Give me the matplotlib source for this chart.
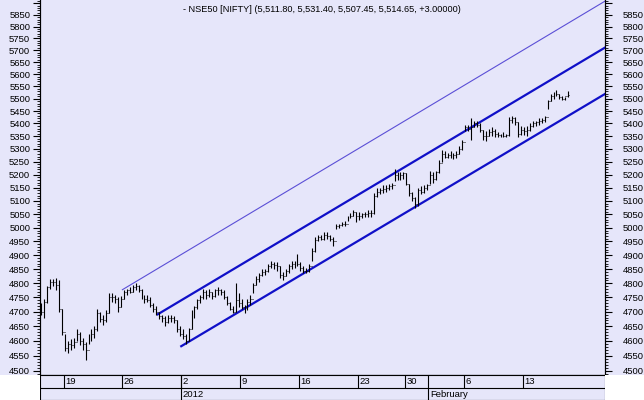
import matplotlib
matplotlib.use('Agg')
import matplotlib.pyplot as plt
from matplotlib.ticker import MultipleLocator, FuncFormatter, NullFormatter
from matplotlib.patches import Rectangle

# Fuente parecida a Arial
plt.rcParams['font.family'] = ['Liberation Sans', 'DejaVu Sans']

# PASO 1: Datos (4 barras por sesion, 15-dic-2011 .. 16-feb-2012)
maximos = [
    4730, 4745, 4790, 4815,  4815, 4818, 4810, 4710,  4625, 4600, 4605, 4610,  # 15,16,19 dic
    4640, 4630, 4610, 4595,  4625, 4640, 4650, 4710,  4700, 4690, 4705, 4765,  # 20,21,22 dic
    4765, 4760, 4750, 4755,  4775, 4780, 4785, 4795,  4800, 4795, 4780, 4760,  # 23,26,27 dic
    4760, 4750, 4730, 4720,  4700, 4690, 4685, 4690,  4690, 4685, 4670, 4650,  # 28,29,30 dic
    4640, 4625, 4645, 4705,  4720, 4745, 4760, 4780,  4775, 4780, 4770, 4780,  # 2,3,4 ene
    4785, 4780, 4775, 4755,  4735, 4720, 4800, 4765,  4745, 4725, 4745, 4760,  # 5,6,9 ene
    4800, 4825, 4835, 4850,  4850, 4870, 4880, 4875,  4875, 4860, 4840, 4850,  # 10,11,12 ene
    4870, 4880, 4880, 4905,  4875, 4860, 4855, 4870,  4925, 4965, 4975, 4975,  # 13,16,17 ene
    4985, 4985, 4975, 4965,  5015, 5015, 5020, 5025,  5045, 5055, 5065, 5060,  # 18,19,20 ene
    5060, 5055, 5060, 5065,  5065, 5130, 5150, 5150,  5160, 5160, 5165, 5170,  # 23,24,25 ene
    5220, 5210, 5210, 5210,  5205, 5165, 5135, 5115,  5150, 5155, 5160, 5165,  # 27,30,31 ene
    5215, 5210, 5215, 5255,  5295, 5290, 5285, 5290,  5285, 5290, 5310, 5335,  # 1,2,3 feb
    5395, 5395, 5420, 5410,  5410, 5400, 5375, 5370,  5380, 5385, 5380, 5365,  # 6,7,8 feb
    5360, 5365, 5360, 5425,  5430, 5425, 5405, 5390,  5385, 5390, 5400, 5410,  # 9,10,13 feb
    5410, 5420, 5420, 5430,  5495, 5520, 5525, 5535,  5520, 5510, 5505, 5531.40,  # 14,15,16 feb
]
minimos = [
    4690, 4680, 4730, 4780,  4790, 4775, 4700, 4620,  4565, 4560, 4570, 4575,
    4600, 4585, 4570, 4535,  4590, 4600, 4610, 4635,  4665, 4655, 4665, 4695,
    4735, 4730, 4700, 4715,  4745, 4760, 4765, 4770,  4775, 4770, 4745, 4730,
    4735, 4715, 4700, 4690,  4675, 4665, 4650, 4660,  4665, 4660, 4630, 4615,
    4605, 4590, 4600, 4640,  4680, 4710, 4730, 4745,  4745, 4750, 4745, 4750,
    4760, 4760, 4745, 4725,  4705, 4695, 4700, 4715,  4710, 4695, 4705, 4725,
    4765, 4795, 4805, 4825,  4830, 4840, 4855, 4850,  4845, 4820, 4810, 4825,
    4835, 4850, 4855, 4860,  4845, 4835, 4835, 4840,  4880, 4910, 4950, 4955,
    4955, 4960, 4950, 4935,  4995, 5000, 5005, 5005,  5025, 5035, 5045, 5020,
    5030, 5035, 5040, 5040,  5040, 5050, 5115, 5125,  5130, 5135, 5140, 5145,
    5175, 5180, 5180, 5185,  5160, 5120, 5100, 5075,  5080, 5125, 5130, 5140,
    5165, 5170, 5180, 5205,  5250, 5265, 5265, 5265,  5260, 5265, 5280, 5295,
    5370, 5370, 5335, 5385,  5385, 5365, 5335, 5330,  5350, 5350, 5345, 5345,
    5345, 5345, 5345, 5350,  5400, 5395, 5345, 5355,  5355, 5350, 5370, 5385,
    5390, 5395, 5400, 5405,  5460, 5490, 5500, 5510,  5500, 5495, 5495, 5507.45,
]
cierres = [
    4700, 4735, 4785, 4805,  4805, 4795, 4710, 4630,  4575, 4590, 4585, 4595,
    4625, 4600, 4590, 4570,  4615, 4625, 4640, 4695,  4675, 4670, 4695, 4750,
    4750, 4745, 4715, 4745,  4770, 4775, 4770, 4785,  4790, 4775, 4750, 4745,
    4740, 4725, 4710, 4700,  4685, 4680, 4665, 4680,  4680, 4670, 4640, 4625,
    4615, 4600, 4640, 4695,  4715, 4740, 4750, 4770,  4760, 4770, 4755, 4775,
    4775, 4770, 4750, 4730,  4710, 4700, 4740, 4730,  4715, 4705, 4735, 4745,
    4795, 4815, 4830, 4840,  4845, 4860, 4870, 4865,  4860, 4830, 4825, 4845,
    4860, 4870, 4865, 4870,  4855, 4845, 4845, 4860,  4915, 4955, 4965, 4960,
    4975, 4970, 4960, 4950,  5005, 5010, 5015, 5015,  5040, 5045, 5060, 5045,
    5045, 5050, 5050, 5055,  5055, 5120, 5135, 5140,  5145, 5150, 5155, 5160,
    5200, 5195, 5200, 5205,  5165, 5130, 5110, 5090,  5140, 5135, 5150, 5160,
    5200, 5185, 5210, 5245,  5280, 5270, 5275, 5270,  5275, 5280, 5300, 5325,
    5385, 5380, 5385, 5400,  5395, 5375, 5350, 5350,  5365, 5370, 5360, 5355,
    5355, 5350, 5355, 5415,  5420, 5405, 5360, 5375,  5370, 5375, 5390, 5400,
    5405, 5410, 5415, 5425,  5490, 5510, 5515, 5520,  5505, 5500, 5511.80, 5514.65,
]
apertura_inicial = 4720
barras_por_dia = 4

# Lineas de tendencia (sesion, precio) en los extremos
linea_fina_x = [7.0, 48.0]
linea_fina_y = [4777, 5910]
canal_sup_x = [10.0, 48.0]
canal_sup_y = [4691, 5711]
canal_inf_x = [12.0, 48.0]
canal_inf_y = [4582, 5519]

# Etiquetas del eje X (sesion donde empieza cada semana / mes)
semanas_pos = [2, 7, 12, 17, 22, 27, 31, 36, 41]
semanas_txt = ['19', '26', '2', '9', '16', '23', '30', '6', '13']
meses_pos = [12, 33]
meses_txt = ['2012', 'February']

titulo = '- NSE50 [NIFTY] (5,511.80, 5,531.40, 5,507.45, 5,514.65, +3.00000)'

# PASO 2: Figura
fondo = '#E6E6FA'
fig = plt.figure(figsize=(6.44, 4.0), dpi=100, facecolor=fondo)
W, H = 644.0, 400.0
ax = fig.add_axes([40 / W, 25 / H, 565 / W, 375 / H])
ax.set_facecolor(fondo)

# esquinas blancas bajo los ejes de precio
fig.patches.append(Rectangle((0, 0), 40 / W, 25 / H, transform=fig.transFigure,
                             facecolor='white', edgecolor='none', zorder=0))
fig.patches.append(Rectangle((605 / W, 0), 39 / W, 25 / H, transform=fig.transFigure,
                             facecolor='white', edgecolor='none', zorder=0))

# PASO 3: Barras OHLC
n = len(cierres)
xs = [i // barras_por_dia + (i % barras_por_dia + 0.5) / barras_por_dia for i in range(n)]
aperturas = [apertura_inicial] + cierres[:-1]
ax.vlines(xs, minimos, maximos, color='black', linewidth=0.8, zorder=3)
ax.hlines(aperturas, [x - 0.08 for x in xs], xs, color='black', linewidth=0.7, zorder=3)
ax.hlines(cierres, xs, [x + 0.08 for x in xs], color='black', linewidth=0.7, zorder=3)

# PASO 4: Canal
ax.plot(linea_fina_x, linea_fina_y, color='#5B4FD6', linewidth=0.8, zorder=2)
ax.plot(canal_sup_x, canal_sup_y, color='#1010C8', linewidth=1.6, zorder=2)
ax.plot(canal_inf_x, canal_inf_y, color='#1010C8', linewidth=1.6, zorder=2)

# PASO 5: Ejes
ax.set_yscale('log')
ax.set_ylim(4485.7, 5915)
ax.set_xlim(0, 48)
ax.set_xticks([])
ax.spines['top'].set_visible(False)

# sin etiqueta para 5900 (queda cortada arriba)
etiqueta = FuncFormatter(lambda v, pos: '%d' % round(v) if v < 5875 else '')


def formato_eje(eje, pad):
    eje.yaxis.set_major_locator(MultipleLocator(50))
    eje.yaxis.set_minor_locator(MultipleLocator(10))
    eje.yaxis.set_major_formatter(etiqueta)
    eje.yaxis.set_minor_formatter(NullFormatter())
    eje.tick_params(axis='y', which='major', length=5, width=0.8, labelsize=6.8, pad=pad)
    eje.tick_params(axis='y', which='minor', length=2.5, width=0.6)


formato_eje(ax, 2)
ax2 = ax.twinx()
ax2.set_yscale('log')
ax2.set_ylim(ax.get_ylim())
formato_eje(ax2, 8)
ax2.spines['top'].set_visible(False)

# PASO 6: Banda de fechas
ax_f = fig.add_axes([40 / W, 0, 565 / W, 25 / H])
ax_f.set_facecolor(fondo)
ax_f.set_xlim(0, 48)
ax_f.set_ylim(0, 1)
ax_f.set_xticks([])
ax_f.set_yticks([])
for s in ax_f.spines.values():
    s.set_linewidth(0.8)
y_div = 0.47
ax_f.axhline(y_div, color='black', linewidth=0.8)
ax_f.vlines(semanas_pos, y_div, 1, color='black', linewidth=0.8)
ax_f.vlines(meses_pos, 0, 1, color='black', linewidth=0.8)
for p, t in zip(semanas_pos, semanas_txt):
    ax_f.text(p + 0.12, 0.73, t, fontsize=6.8, ha='left', va='center')
for p, t in zip(meses_pos, meses_txt):
    ax_f.text(p + 0.12, 0.22, t, fontsize=6.8, ha='left', va='center')

# PASO 7: Titulo
fig.text(0.5, 1 - 9 / H, titulo, fontsize=6.6, ha='center', va='center')

fig.savefig('out.png', dpi=100, facecolor=fondo)
